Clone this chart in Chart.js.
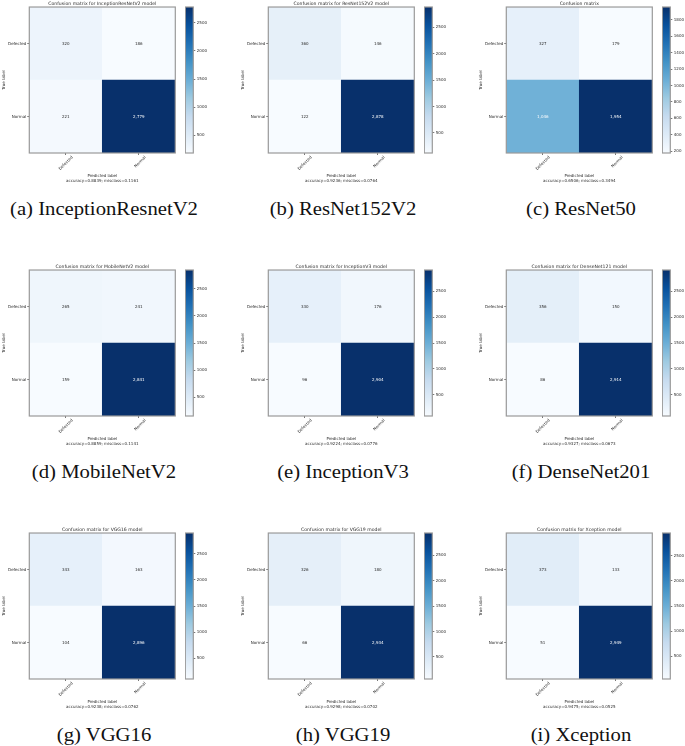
<!DOCTYPE html>
<html><head><meta charset="utf-8">
<script src="https://cdn.jsdelivr.net/npm/chart.js@4"></script>
<style>
html,body{margin:0;padding:0;background:#fff;overflow:hidden}
#fig{position:relative;width:685px;height:746px;overflow:hidden;background:#fff}
#fig canvas{position:absolute}
.cap{position:absolute;width:260px;text-align:center;font-family:'Liberation Serif',serif;font-size:18px;color:#111;line-height:18px;white-space:nowrap;transform:scaleX(1.15);transform-origin:50% 50%}
</style></head><body><div id="fig"></div>
<script>
// ---- data ----
const classLabels = ['Defected', 'Normal'];
const modelTitles = [
  'Confusion matrix for InceptionResNetV2 model',
  'Confusion matrix for ResNet152V2 model',
  'Confusion matrix',
  'Confusion matrix for MobileNetV2 model',
  'Confusion matrix for InceptionV3 model',
  'Confusion matrix for DenseNet121 model',
  'Confusion matrix for VGG16 model',
  'Confusion matrix for VGG19 model',
  'Confusion matrix for Xception model'
];
const captions = ['(a) InceptionResnetV2', '(b) ResNet152V2', '(c) ResNet50',
  '(d) MobileNetV2', '(e) InceptionV3', '(f) DenseNet201',
  '(g) VGG16', '(h) VGG19', '(i) Xception'];
const trueDefPredDef = [320, 360, 327, 265, 330, 356, 343, 326, 373];
const trueDefPredNor = [186, 146, 179, 241, 176, 150, 163, 180, 133];
const trueNorPredDef = [221, 122, 1046, 159, 96, 86, 104, 66, 51];
const trueNorPredNor = [2779, 2878, 1954, 2841, 2904, 2914, 2896, 2934, 2949];
const colorbarStep = [500, 500, 200, 500, 500, 500, 500, 500, 500];

// ---- layout / style ----
const colLeft = [0, 239, 477];
const rowTop = [0, 263, 526];
const capY = [209, 472, 735];
const BLUES = ['#f7fbff','#deebf7','#c6dbef','#9ecae1','#6baed6','#4292c6','#2171b5','#08519c','#08306b'];
const TXT = '#2a2a2a';
const FRAME = '#9a9a9a';
const small = {family: 'DejaVu Sans', size: 4, lineHeight: 1.25};
const titleFont = {family: 'DejaVu Sans', size: 4.6, lineHeight: 1.2, weight: 'normal'};

function hex(c) { return [1, 3, 5].map(k => parseInt(c.substr(k, 2), 16)); }
const BL = BLUES.map(hex);
function blues(t) {
  t = Math.max(0, Math.min(1, t));
  const s = t * 8, i = Math.min(7, Math.floor(s)), f = s - i;
  const a = BL[i], b = BL[i + 1];
  return 'rgb(' + a.map((v, k) => Math.round(v + (b[k] - v) * f)).join(',') + ')';
}

const framePlugin = {
  id: 'frame',
  afterDraw(chart) {
    const a = chart.chartArea, c = chart.ctx;
    c.save(); c.strokeStyle = FRAME; c.lineWidth = 1.2;
    c.strokeRect(a.left, a.top, a.right - a.left, a.bottom - a.top);
    c.restore();
  }
};
const cellText = {
  id: 'cellText',
  afterDatasetsDraw(chart) {
    const c = chart.ctx;
    c.save();
    c.font = small.size + 'px "' + small.family + '"';
    c.textAlign = 'center'; c.textBaseline = 'middle';
    chart.data.datasets.forEach((ds, di) => {
      chart.getDatasetMeta(di).data.forEach((bar, j) => {
        const v = ds.values[j];
        const p = bar.getCenterPoint();
        c.fillStyle = v > ds.thresh ? '#ffffff' : TXT;
        c.fillText(v.toLocaleString('en-US'), p.x, p.y);
      });
    });
    c.restore();
  }
};

const fig = document.getElementById('fig');
function mkCanvas(left, top, w, h) {
  const cv = document.createElement('canvas');
  cv.width = w; cv.height = h;
  cv.style.left = left + 'px'; cv.style.top = top + 'px';
  cv.style.width = w + 'px'; cv.style.height = h + 'px';
  fig.appendChild(cv);
  return cv;
}

for (let i = 0; i < 9; i++) {
  const col = i % 3, row = Math.floor(i / 3);
  const L = colLeft[col], T = rowTop[row];
  const cells = [trueDefPredDef[i], trueDefPredNor[i], trueNorPredDef[i], trueNorPredNor[i]];
  const vmin = Math.min(...cells), vmax = Math.max(...cells);
  const total = cells.reduce((s, v) => s + v, 0);
  const acc = (trueDefPredDef[i] + trueNorPredNor[i]) / total;
  const norm = v => (v - vmin) / (vmax - vmin);
  const thresh = vmax / 2;
  const rowVals = [[trueDefPredDef[i], trueDefPredNor[i]], [trueNorPredDef[i], trueNorPredNor[i]]];
  const nRows = classLabels.length;

  // matrix: stacked unit bars, bottom dataset = last class row
  const datasets = [];
  for (let r = nRows - 1; r >= 0; r--) {
    datasets.push({
      label: classLabels[r],
      data: classLabels.map(() => 1),
      values: rowVals[r],
      thresh: thresh,
      backgroundColor: rowVals[r].map(v => blues(norm(v))),
      borderWidth: 0
    });
  }
  const W = 179, H = 183;
  new Chart(mkCanvas(L, T, W, H), {
    type: 'bar',
    data: {labels: classLabels, datasets},
    plugins: [cellText, framePlugin],
    options: {
      responsive: false, animation: false, devicePixelRatio: 1,
      layout: {padding: {left: 0, right: W - 175.3, top: 0, bottom: 0}},
      datasets: {bar: {barPercentage: 1, categoryPercentage: 1}},
      plugins: {
        legend: {display: false}, tooltip: {enabled: false},
        title: {display: true, fullSize: false, text: modelTitles[i], font: titleFont, color: TXT, padding: {top: 1.5, bottom: 0}}
      },
      scales: {
        x: {
          stacked: true, offset: true,
          grid: {offset: false, drawOnChartArea: false, tickLength: 2, color: '#555', lineWidth: 0.8},
          border: {display: false},
          ticks: {font: small, color: TXT, minRotation: 45, maxRotation: 45, padding: 0, labelOffset: 6.5, autoSkip: false},
          title: {display: true, text: ['Predicted label', 'accuracy=' + acc.toFixed(4) + '; misclass=' + (1 - acc).toFixed(4)], font: small, color: TXT, padding: 0},
          afterFit: s => { s.height = H - 153; }
        },
        y: {
          stacked: true, min: 0, max: nRows,
          grid: {drawOnChartArea: false, tickLength: 2, color: '#555', lineWidth: 0.8},
          border: {display: false},
          afterBuildTicks: s => { s.ticks = classLabels.map((_, k) => ({value: nRows - k - 0.5})); },
          ticks: {font: small, color: TXT, padding: 1, callback: v => classLabels[nRows - 0.5 - v]},
          title: {display: true, text: 'True label', font: small, color: TXT, padding: {top: 1.2, bottom: 0}},
          afterFit: s => { s.width = 29.3; }
        }
      }
    }
  });

  // colorbar
  const CW = 30, CH = 158;
  const step = colorbarStep[i];
  new Chart(mkCanvas(L + 185, T, CW, CH), {
    type: 'bar',
    data: {labels: [''], datasets: [{
      data: [[vmin, vmax]],
      borderWidth: 0,
      backgroundColor: ctx => {
        const ch = ctx.chart, a = ch.chartArea;
        if (!a) return BLUES[4];
        const g = ch.ctx.createLinearGradient(0, a.bottom, 0, a.top);
        BLUES.forEach((c, k) => g.addColorStop(k / 8, c));
        return g;
      }
    }]},
    plugins: [framePlugin],
    options: {
      responsive: false, animation: false, devicePixelRatio: 1,
      layout: {padding: {left: 0.3, right: 0, top: 7, bottom: CH - 153}},
      datasets: {bar: {barPercentage: 1, categoryPercentage: 1}},
      plugins: {legend: {display: false}, tooltip: {enabled: false}},
      scales: {
        x: {display: false},
        y: {
          position: 'right', min: vmin, max: vmax,
          grid: {drawOnChartArea: false, tickLength: 2, color: '#555', lineWidth: 0.8},
          border: {display: false},
          afterBuildTicks: s => {
            const t = [];
            for (let v = Math.ceil(vmin / step) * step; v <= vmax; v += step) t.push({value: v});
            s.ticks = t;
          },
          ticks: {font: small, color: TXT, padding: 1.5, callback: v => String(v)},
          afterFit: s => { s.width = CW - 0.3 - 8; }
        }
      }
    }
  });

  // caption
  const cap = document.createElement('div');
  cap.className = 'cap';
  cap.textContent = captions[i];
  cap.style.left = (L + 104 - 130) + 'px';
  cap.style.top = (capY[row] - 9) + 'px';
  fig.appendChild(cap);
}
</script></body></html>
